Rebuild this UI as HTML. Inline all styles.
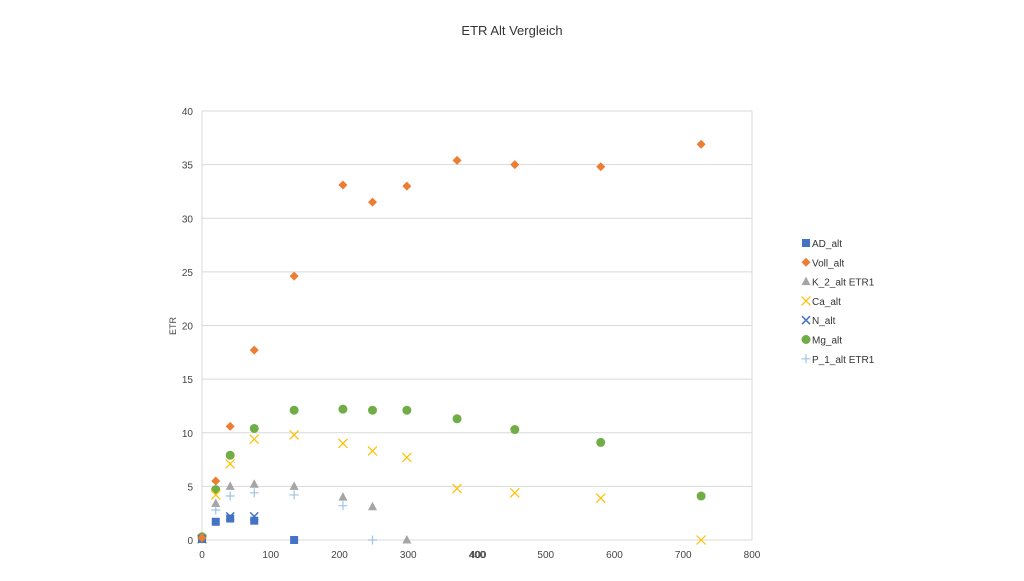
<!DOCTYPE html>
<html><head><meta charset="utf-8"><style>
body{margin:0;background:#fff;font-family:"Liberation Sans",sans-serif}
</style></head><body>
<svg width="1024" height="576" id="c" xmlns="http://www.w3.org/2000/svg" font-family="Liberation Sans, sans-serif">
<text x="512" y="35" text-anchor="middle" font-size="13" fill="#333">ETR Alt Vergleich</text>
<text x="176" y="326" text-anchor="middle" font-size="9" fill="#444" transform="rotate(-90 176 326)">ETR</text>
<g id="grid"></g><g id="marks"></g><g id="legend"></g>
</svg>
<script>
const xTicks=[0,100,200,300,400,400,500,600,700,800];
const yTicks=[0,5,10,15,20,25,30,35,40];
const xs=[0,20,41,76,134,205,248,298,371,455,580,726];
const adX=[0,20,41,76,134], adY=[0.1,1.7,2.0,1.8,0];
const vollX=[0,20,41,76,134,205,248,298,371,455,580,726], vollY=[0.2,5.5,10.6,17.7,24.6,33.1,31.5,33.0,35.4,35.0,34.8,36.9];
const kX=[0,20,41,76,134,205,248,298], kY=[0.1,3.4,5.0,5.2,5.0,4.0,3.1,0];
const caX=[0,20,41,76,134,205,248,298,371,455,580,726], caY=[0.1,4.2,7.1,9.4,9.8,9.0,8.3,7.7,4.8,4.4,3.9,0];
const nX=[0,41,76], nY=[0.1,2.2,2.2];
const mgX=[0,20,41,76,134,205,248,298,371,455,580,726], mgY=[0.3,4.7,7.9,10.4,12.1,12.2,12.1,12.1,11.3,10.3,9.1,4.1];
const pX=[0,20,41,76,134,205,248], pY=[0.1,2.8,4.1,4.4,4.2,3.2,0];
const legendNames=["AD_alt","Voll_alt","K_2_alt ETR1","Ca_alt","N_alt","Mg_alt","P_1_alt ETR1"];
const X=v=>202+v*(550/800), Y=v=>540-v*(429/40);
const NS="http://www.w3.org/2000/svg";
function mk(t,a,p){const e=document.createElementNS(NS,t);for(const k in a)e.setAttribute(k,a[k]);p.appendChild(e);return e;}
const g=document.getElementById('grid');
yTicks.forEach((t,i)=>{const l=mk('line',{x1:202,x2:752,y1:Y(t),y2:Y(t),stroke:'#d9d9d9'},g);


const tx=mk('text',{x:193,y:Y(t)+4,'text-anchor':'end','font-size':10,fill:'#444'},g);tx.textContent=t;

});
const ax=mk('line',{x1:202,x2:202,y1:111,y2:540,stroke:'#d9d9d9'},g);


const ax2=mk('line',{x1:752,x2:752,y1:111,y2:540,stroke:'#d9d9d9'},g);


xTicks.forEach((t,i)=>{const tx=mk('text',{x:X(t)+(i==5?1:0),y:558,'text-anchor':'middle','font-size':10,fill:'#444'},g);tx.textContent=t;

});
const m=document.getElementById('marks');
function marker(type,x,y,p){let e;
if(type=='sq')e=mk('rect',{x:x-4,y:y-4,width:8,height:8,fill:'#4472c4'},p);
else if(type=='dia')e=mk('path',{d:`M${x} ${y-4.5}L${x+4.5} ${y}L${x} ${y+4.5}L${x-4.5} ${y}Z`,fill:'#ed7d31'},p);
else if(type=='tri')e=mk('path',{d:`M${x} ${y-5}L${x+4.5} ${y+3.5}L${x-4.5} ${y+3.5}Z`,fill:'#a5a5a5'},p);
else if(type=='x')e=mk('path',{d:`M${x-4.5} ${y-4.5}L${x+4.5} ${y+4.5}M${x+4.5} ${y-4.5}L${x-4.5} ${y+4.5}`,stroke:'#ffc000','stroke-width':1.2},p);
else if(type=='n')e=mk('path',{d:`M${x-4} ${y-4}L${x+4} ${y+4}M${x+4} ${y-4}L${x-4} ${y+4}`,stroke:'#4472c4','stroke-width':1.5},p);
else if(type=='ci')e=mk('circle',{cx:x,cy:y,r:4.5,fill:'#70ad47'},p);
else e=mk('path',{d:`M${x-4.5} ${y}L${x+4.5} ${y}M${x} ${y-4.5}L${x} ${y+4.5}`,stroke:'#9dc3e6','stroke-width':1.2},p);
return e;}
const series=[[adX,adY,'sq'],[vollX,vollY,'dia'],[kX,kY,'tri'],[caX,caY,'x'],[nX,nY,'n'],[mgX,mgY,'ci'],[pX,pY,'p']];
[5,3,2,6,0,4,1].forEach(si=>{const [sx,sy,t]=series[si];sx.forEach((v,i)=>{const e=marker(t,X(v),Y(sy[i]),m);

});});
const L=document.getElementById('legend');
legendNames.forEach((n,i)=>{const y=243+i*19.3;const e=marker(series[i][2],806,y,L);


const t=mk('text',{x:812,y:y+4,'font-size':10,fill:'#333'},L);t.textContent=n;

});
</script>
</body></html>
